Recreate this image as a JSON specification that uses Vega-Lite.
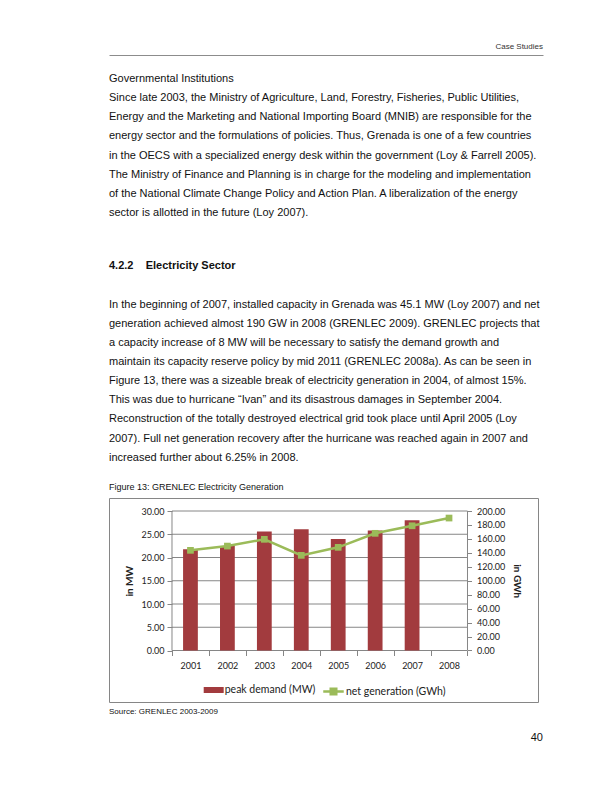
{
  "$schema": "https://vega.github.io/schema/vega-lite/v6.json",
  "background": "white",
  "padding": {"left": 108, "top": 39, "right": 30, "bottom": 20},
  "bounds": "flush",
  "spacing": 0,
  "config": {
    "view": {"stroke": null},
    "text": {"font": "Liberation Sans", "fontSize": 11, "align": "left", "baseline": "middle", "color": "#111111"}
  },
  "datasets": {
    "paragraph1": [
      {"line": 0, "text": "Governmental Institutions"},
      {"line": 1, "text": "Since late 2003, the Ministry of Agriculture, Land, Forestry, Fisheries, Public Utilities,"},
      {"line": 2, "text": "Energy and the Marketing and National Importing Board (MNIB) are responsible for the"},
      {"line": 3, "text": "energy sector and the formulations of policies. Thus, Grenada is one of a few countries"},
      {"line": 4, "text": "in the OECS with a specialized energy desk within the government (Loy & Farrell 2005)."},
      {"line": 5, "text": "The Ministry of Finance and Planning is in charge for the modeling and implementation"},
      {"line": 6, "text": "of the National Climate Change Policy and Action Plan. A liberalization of the energy"},
      {"line": 7, "text": "sector is allotted in the future (Loy 2007)."}
    ],
    "heading": [
      {"line": 1, "text": "4.2.2\u00a0\u00a0\u00a0\u00a0Electricity Sector"}
    ],
    "paragraph2": [
      {"line": 3, "text": "In the beginning of 2007, installed capacity in Grenada was 45.1 MW (Loy 2007) and net"},
      {"line": 4, "text": "generation achieved almost 190 GW in 2008 (GRENLEC 2009). GRENLEC projects that"},
      {"line": 5, "text": "a capacity increase of 8 MW will be necessary to satisfy the demand growth and"},
      {"line": 6, "text": "maintain its capacity reserve policy by mid 2011 (GRENLEC 2008a). As can be seen in"},
      {"line": 7, "text": "Figure 13, there was a sizeable break of electricity generation in 2004, of almost 15%."},
      {"line": 8, "text": "This was due to hurricane \u201cIvan\u201d and its disastrous damages in September 2004."},
      {"line": 9, "text": "Reconstruction of the totally destroyed electrical grid took place until April 2005 (Loy"},
      {"line": 10, "text": "2007). Full net generation recovery after the hurricane was reached again in 2007 and"},
      {"line": 11, "text": "increased further about 6.25% in 2008."}
    ],
    "grenlec": [
      {"year": 2001, "peak_mw": 21.8, "net_gwh": 143.6},
      {"year": 2002, "peak_mw": 22.5, "net_gwh": 149.7},
      {"year": 2003, "peak_mw": 25.6, "net_gwh": 159.4},
      {"year": 2004, "peak_mw": 26.1, "net_gwh": 136.4},
      {"year": 2005, "peak_mw": 24.0, "net_gwh": 147.9},
      {"year": 2006, "peak_mw": 25.8, "net_gwh": 168.0},
      {"year": 2007, "peak_mw": 28.0, "net_gwh": 178.8},
      {"year": 2008, "peak_mw": null, "net_gwh": 189.9}
    ],
    "mwGrid": [
      {"mw": 0}, {"mw": 5}, {"mw": 10}, {"mw": 15}, {"mw": 20}, {"mw": 25}, {"mw": 30}
    ]
  },
  "vconcat": [
    {
      "width": 434,
      "height": 16,
      "data": {"values": [{"line": 0, "text": "Case Studies"}]},
      "mark": {"type": "text", "align": "right", "fontSize": 8, "color": "#333333"},
      "encoding": {
        "text": {"field": "text"},
        "x": {"datum": 1, "type": "quantitative", "scale": {"domain": [0, 1]},
              "axis": {"domain": true, "domainColor": "#8c8c8c", "domainWidth": 1, "ticks": false, "labels": false, "grid": false, "title": null}},
        "y": {"field": "line", "type": "ordinal", "scale": {"type": "point", "domain": [0]}, "axis": null}
      }
    },
    {
      "width": 434,
      "height": 172.26,
      "data": {"name": "paragraph1"},
      "mark": {"type": "text"},
      "encoding": {
        "text": {"field": "text"},
        "x": {"datum": 0, "type": "quantitative", "scale": {"domain": [0, 1]}, "axis": null},
        "y": {"field": "line", "type": "ordinal", "scale": {"type": "point", "domain": [0, 1, 2, 3, 4, 5, 6, 7], "padding": 1, "align": 0.627}, "axis": null}
      }
    },
    {
      "width": 434,
      "height": 269.74,
      "layer": [
        {
          "data": {"name": "heading"},
          "mark": {"type": "text", "fontWeight": "bold"},
          "encoding": {
            "text": {"field": "text"},
            "x": {"datum": 0, "type": "quantitative", "scale": {"domain": [0, 1]}, "axis": null},
            "y": {"field": "line", "type": "ordinal", "scale": {"type": "point", "domain": [0, 1, 2, 3, 4, 5, 6, 7, 8, 9, 10, 11, 12, 13], "padding": 0.55, "align": 0.917}, "axis": null}
          }
        },
        {
          "data": {"name": "paragraph2"},
          "mark": {"type": "text"},
          "encoding": {
            "text": {"field": "text"},
            "x": {"datum": 0, "type": "quantitative", "scale": {"domain": [0, 1]}, "axis": null},
            "y": {"field": "line", "type": "ordinal", "scale": {"type": "point", "domain": [0, 1, 2, 3, 4, 5, 6, 7, 8, 9, 10, 11, 12, 13], "padding": 0.55, "align": 0.917}, "axis": null}
          }
        }
      ]
    },
    {
      "width": 429,
      "height": 204,
      "view": {"stroke": "#868686", "strokeWidth": 1},
      "title": {"text": "Figure 13: GRENLEC Electricity Generation", "anchor": "start", "frame": "group", "font": "Liberation Sans", "fontSize": 9, "fontWeight": "normal", "color": "#111111", "baseline": "bottom", "offset": -2.5},
      "layer": [
        {
          "data": {"name": "mwGrid"},
          "mark": {"type": "rule", "color": "#868686", "strokeWidth": 1},
          "encoding": {
            "x": {"datum": 2001, "type": "ordinal", "bandPosition": 0,
                  "axis": {"orient": "bottom", "offset": -51.5, "values": [2001, 2002, 2003, 2004, 2005, 2006, 2007, 2008], "domain": false, "grid": false, "tickBand": "extent", "tickSize": 5, "tickColor": "#868686", "labelAngle": 0, "labelPadding": 6, "labelFont": "Lato", "labelFontSize": 9, "labelColor": "#222222", "title": null}},
            "x2": {"datum": 2008, "bandPosition": 1},
            "y": {"field": "mw", "type": "quantitative", "scale": {"domain": [-11.075, 32.796], "nice": false, "zero": false}, "axis": null}
          }
        },
        {
          "data": {"values": [{}]},
          "mark": {"type": "rule", "color": "#868686", "strokeWidth": 1},
          "encoding": {
            "x": {"datum": 2001, "type": "ordinal", "bandPosition": 0,
                  "axis": {"orient": "bottom", "offset": -51.5, "values": [2001, 2002, 2003, 2004, 2005, 2006, 2007, 2008], "domain": false, "grid": false, "tickBand": "extent", "tickSize": 5, "tickColor": "#868686", "labelAngle": 0, "labelPadding": 6, "labelFont": "Lato", "labelFontSize": 9, "labelColor": "#222222", "title": null}},
            "y": {"datum": 0, "type": "quantitative", "scale": {"domain": [-11.075, 32.796], "nice": false, "zero": false}, "axis": null},
            "y2": {"datum": 30}
          }
        },
        {
          "data": {"values": [{}]},
          "mark": {"type": "rule", "color": "#868686", "strokeWidth": 1},
          "encoding": {
            "x": {"datum": 2008, "type": "ordinal", "bandPosition": 1,
                  "axis": {"orient": "bottom", "offset": -51.5, "values": [2001, 2002, 2003, 2004, 2005, 2006, 2007, 2008], "domain": false, "grid": false, "tickBand": "extent", "tickSize": 5, "tickColor": "#868686", "labelAngle": 0, "labelPadding": 6, "labelFont": "Lato", "labelFontSize": 9, "labelColor": "#222222", "title": null}},
            "y": {"datum": 0, "type": "quantitative", "scale": {"domain": [-11.075, 32.796], "nice": false, "zero": false}, "axis": null},
            "y2": {"datum": 30}
          }
        },
        {
          "data": {"name": "grenlec"},
          "mark": {"type": "bar", "width": {"band": 0.4}},
          "encoding": {
            "x": {
              "field": "year", "type": "ordinal",
              "scale": {"type": "band", "domain": [2000, 2001, 2002, 2003, 2004, 2005, 2006, 2007, 2008, 2009], "paddingInner": 0, "paddingOuter": 0.807, "align": 0.437},
              "axis": {"orient": "bottom", "offset": -51.5, "values": [2001, 2002, 2003, 2004, 2005, 2006, 2007, 2008], "domain": false, "grid": false, "tickBand": "extent", "tickSize": 5, "tickColor": "#868686", "labelAngle": 0, "labelPadding": 6, "labelFont": "Lato", "labelFontSize": 9, "labelColor": "#222222", "title": null}
            },
            "y": {
              "field": "peak_mw", "type": "quantitative",
              "scale": {"domain": [-11.075, 32.796], "nice": false, "zero": false},
              "axis": {"orient": "left", "offset": -63, "values": [0, 5, 10, 15, 20, 25, 30], "format": ".2f", "domain": false, "grid": false, "tickSize": 5, "tickColor": "#868686", "labelPadding": 3, "labelFont": "Lato", "labelFontSize": 9, "labelColor": "#222222", "title": "in MW", "titleFont": "Lato", "titleFontSize": 10, "titleFontWeight": "bold", "titleColor": "#222222", "titleY": 82.75, "titlePadding": 6}
            },
            "color": {
              "datum": "peak demand (MW)", "type": "nominal",
              "scale": {"range": ["#A23B3E"]},
              "legend": {"orient": "none", "legendX": 94.7, "legendY": 182, "title": null, "padding": 0, "symbolType": "M-1,-0.3H1V0.3H-1Z", "symbolSize": 400, "symbolStrokeWidth": 0, "labelFont": "Lato", "labelFontSize": 10.5, "labelColor": "#222222", "labelOffset": 1}
            }
          }
        },
        {
          "data": {"name": "grenlec"},
          "mark": {"type": "line", "strokeWidth": 2.5, "point": {"shape": "square", "size": 45, "filled": true}},
          "encoding": {
            "x": {
              "field": "year", "type": "ordinal",
              "axis": {"orient": "bottom", "offset": -51.5, "values": [2001, 2002, 2003, 2004, 2005, 2006, 2007, 2008], "domain": false, "grid": false, "tickBand": "extent", "tickSize": 5, "tickColor": "#868686", "labelAngle": 0, "labelPadding": 6, "labelFont": "Lato", "labelFontSize": 9, "labelColor": "#222222", "title": null}
            },
            "y": {
              "field": "net_gwh", "type": "quantitative",
              "scale": {"domain": [-73.84, 218.64], "nice": false, "zero": false},
              "axis": {"orient": "right", "offset": -70.5, "values": [0, 20, 40, 60, 80, 100, 120, 140, 160, 180, 200], "format": ".2f", "domain": false, "grid": false, "tickSize": 4, "tickColor": "#868686", "labelPadding": 5, "labelFont": "Lato", "labelFontSize": 9, "labelColor": "#222222", "title": "in GWh", "titleFont": "Lato", "titleFontSize": 10, "titleFontWeight": "bold", "titleColor": "#222222", "titleY": 82.75, "titlePadding": 7}
            },
            "color": {
              "datum": "net generation (GWh)", "type": "nominal",
              "scale": {"range": ["#9BBB59"]},
              "legend": {"orient": "none", "legendX": 213, "legendY": 182, "title": null, "padding": 0, "symbolType": "M-1,0H1M-0.27,-0.27H0.27V0.27H-0.27Z", "symbolSize": 420, "symbolStrokeWidth": 2.5, "labelFont": "Lato", "labelFontSize": 10.5, "labelColor": "#222222", "labelOffset": 1,
                "encode": {"symbols": {"update": {"fill": {"value": "#9BBB59"}, "stroke": {"value": "#9BBB59"}}}}}
            }
          }
        }
      ],
      "resolve": {"scale": {"y": "independent", "color": "independent"}, "legend": {"color": "independent"}}
    },
    {
      "width": 434,
      "height": 60,
      "layer": [
        {
          "data": {"values": [{"line": 0, "text": "Source: GRENLEC 2003-2009"}]},
          "mark": {"type": "text", "fontSize": 8},
          "encoding": {
            "text": {"field": "text"},
            "x": {"datum": 0, "type": "quantitative", "scale": {"domain": [0, 1]}, "axis": null},
            "y": {"field": "line", "type": "ordinal", "scale": {"type": "point", "domain": [0, 1], "padding": 0.6538, "align": 0.306}, "axis": null}
          }
        },
        {
          "data": {"values": [{"line": 1, "text": "40"}]},
          "mark": {"type": "text", "align": "right", "fontSize": 11},
          "encoding": {
            "text": {"field": "text"},
            "x": {"datum": 1, "type": "quantitative", "scale": {"domain": [0, 1]}, "axis": null},
            "y": {"field": "line", "type": "ordinal", "scale": {"type": "point", "domain": [0, 1], "padding": 0.6538, "align": 0.306}, "axis": null}
          }
        }
      ]
    }
  ]
}
